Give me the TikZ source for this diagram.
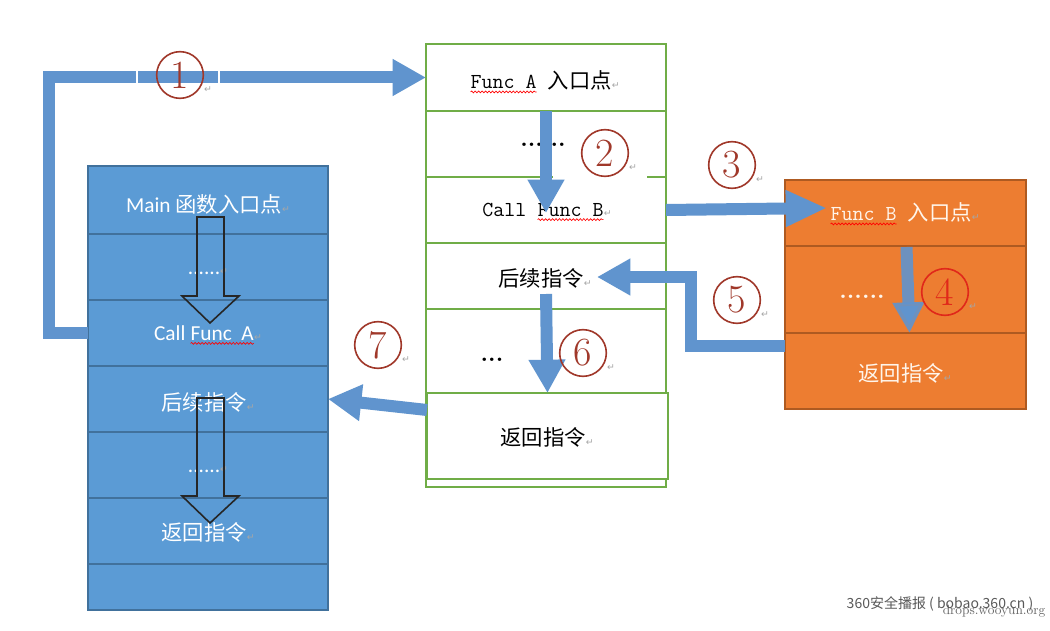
\documentclass[tikz,border=0pt]{standalone}
\usepackage{fontspec}
\newfontfamily\cjk{Noto Sans CJK SC}
\newfontfamily\cali{Carlito}
\newfontfamily\dejavu{DejaVu Sans}
\usetikzlibrary{arrows.meta,decorations.pathmorphing,fit,calc}
\definecolor{lblue}{HTML}{5B9BD5}
\definecolor{lbord}{HTML}{41719C}
\definecolor{mgreen}{HTML}{70AD47}
\definecolor{orng}{HTML}{ED7D31}
\definecolor{obord}{HTML}{AE5A21}
\definecolor{arrb}{RGB}{96,148,206}
\definecolor{cnum}{HTML}{A0382A}
\definecolor{cred}{HTML}{E0281A}
\newcommand\pmk{{\fontsize{7}{7}\selectfont\dejavu\textcolor{gray!70}{↵}}}
\newcommand\wavy[1]{\tikz[baseline=(w.base)]{\node[inner sep=0pt,outer sep=0pt](w){#1};\draw[red,line width=0.5pt,decorate,decoration={snake,amplitude=0.7pt,segment length=2.6pt}]([yshift=-2.4pt]w.base west)--([yshift=-2.4pt]w.base east);}}
\tikzset{
  lrow/.style={fill=lblue,draw=lbord,line width=1.1pt,inner sep=0pt,outer sep=0pt},
  mrow/.style={draw=mgreen,line width=1.1pt,inner sep=0pt,outer sep=0pt},
  orow/.style={fill=orng,draw=obord,line width=1.1pt,inner sep=0pt,outer sep=0pt},
  ltext/.style={text=white,inner sep=0pt,font=\fontsize{16}{18}\selectfont},
  mtext/.style={text=black,inner sep=0pt,font=\fontsize{16}{18}\selectfont},
  otext/.style={text=white!92!orange,inner sep=0pt,font=\fontsize{16}{18}\selectfont},
  bigarrow/.style={draw=arrb,line width=9pt,line join=miter,-{Triangle[width=26pt,length=25pt]}},
  hollow/.style={draw=black!85,line width=1.2pt,line join=miter},
  cn/.style={circle,draw=cnum,text=cnum,line width=1.2pt,minimum size=35pt,inner sep=0pt,font=\fontsize{30}{30}\selectfont},
  pm/.style={inner sep=0pt}
}
\begin{document}
\begin{tikzpicture}[x=0.75pt,y=-0.75pt]
\fill[white] (0,0) rectangle (1050,631);
\useasboundingbox (0,0) rectangle (1050,631);
% left block
\foreach \i/\a/\b in {1/166/234,2/234/300,3/300/366,4/366/432,5/432/498,6/498/564,7/564/610}
  \node[lrow,fit={(88,\a)(328,\b)}] (L\i) {};
% middle block
\node[mrow,fit={(426,44)(666,487)}] (M0) {};
\foreach \i/\a/\b in {1/44/111,2/111/177,3/177/243,4/243/309,5/309/393}
  \node[mrow,fit={(426,\a)(666,\b)}] (M\i) {};
\node[mrow,fill=white,fit={(427,393)(668,479)}] (M6) {};
% right block
\foreach \i/\a/\b in {1/180/246,2/246/333,3/333/409}
  \node[orow,fit={(785,\a)(1026,\b)}] (O\i) {};
% white box under circle 2
\fill[white] (553,112.6) rectangle (647,178.4);
% left texts
\node[ltext] (tL1) at (208,204) {\cali Main \cjk 函数入口点\pmk};
\node[ltext] (tL2) at (208,272) {\cali ......\pmk};
\node[ltext] (tL3) at (208,335) {\cali Call \wavy{Func\ \ A}\pmk};
\node[ltext] (tL4) at (208,402) {\cjk 后续指令\pmk};
\node[ltext] (tL5) at (208,470) {\cali ......\pmk};
\node[ltext] (tL6) at (208,532) {\cjk 返回指令\pmk};
% middle texts
\node[mtext] (tM1) at (545,82) {\ttfamily\wavy{Func A}\ \cjk 入口点\pmk};
\node[mtext,font=\fontsize{18}{18}\selectfont\bfseries] (tM2) at (543,145) {......};
\node[mtext] (tM3) at (547,212) {\ttfamily Call \wavy{Func B}\pmk};
\node[mtext] (tM4) at (545,278) {\cjk 后续指令\pmk};
\node[mtext,font=\fontsize{18}{18}\selectfont\bfseries] (tM5) at (492,360) {...};
\node[mtext] (tM6) at (547,437) {\cjk 返回指令\pmk};
% right texts
\node[otext] (tO1) at (905,214) {\ttfamily\wavy{Func B}\ \cjk 入口点\pmk};
\node[otext,font=\fontsize{18}{18}\selectfont\bfseries] (tO2) at (862,297) {......};
\node[otext] (tO3) at (905,373) {\cjk 返回指令\pmk};
% hollow arrows in left block
\draw[hollow] (197,217) -- (224,217) -- (224,296) -- (239,296) -- (210,323) -- (182,296) -- (197,296) -- cycle;
\draw[hollow] (197,398) -- (224,398) -- (224,496) -- (239,496) -- (210,523) -- (182,496) -- (197,496) -- cycle;
% connectors
\draw[bigarrow] (L3.west) -- ++(-39,0) |- (M1.west);
\draw[white,line width=1.5pt] (137,69) -- (137,87) (219,69) -- (219,87);
\draw[bigarrow] (M2.north) -- ($(M3.center)+(0,3)$);
\draw[bigarrow,-{Triangle[width=25.5pt,length=31pt]}] (M3.east) -- ($(O1.west)+(42,-5)$);
\draw[bigarrow,draw opacity=0.9,-{Triangle[width=22.5pt,length=23pt]}] ($(O2.north)+(1,1)$) -- ($(O3.north)+(4,0)$);
\draw[bigarrow] ($(O3.north west)+(0,13)$) -- ++(-94,0) |- ($(M4.center)+(51,1)$);
\draw[bigarrow] ($(M4.center)+(0,18)$) -- (M6.north);
\draw[bigarrow] ($(M6.north west)+(0,17)$) -- (L4.east);
% circled numbers
\node[cn] (c1) at (180,75) {1};
\node[cn] (c2) at (605,153) {2};
\node[cn] (c3) at (732,165) {3};
\node[cn,draw=cred,text=cred] (c4) at (945,292) {4};
\node[cn] (c5) at (737,300) {5};
\node[cn] (c6) at (583,353) {6};
\node[cn] (c7) at (378,345) {7};
\foreach \c in {1,...,7} \node[pm] (p\c) at ($(c\c)+(28,15)$) {\pmk};
% watermark (the two stamps overlap in the reference)
\node[inner sep=0pt,text=black!65,font=\fontsize{10.5}{12}\selectfont] (wm1) at (940,604) {\cjk 360安全播报 ( bobao.360.cn )};
\node[inner sep=0pt,text=black!75,opacity=0.8,font=\fontsize{10}{12}\selectfont] (wm2) at (994,611) {drops.wooyun.org};
\end{tikzpicture}
\end{document}
